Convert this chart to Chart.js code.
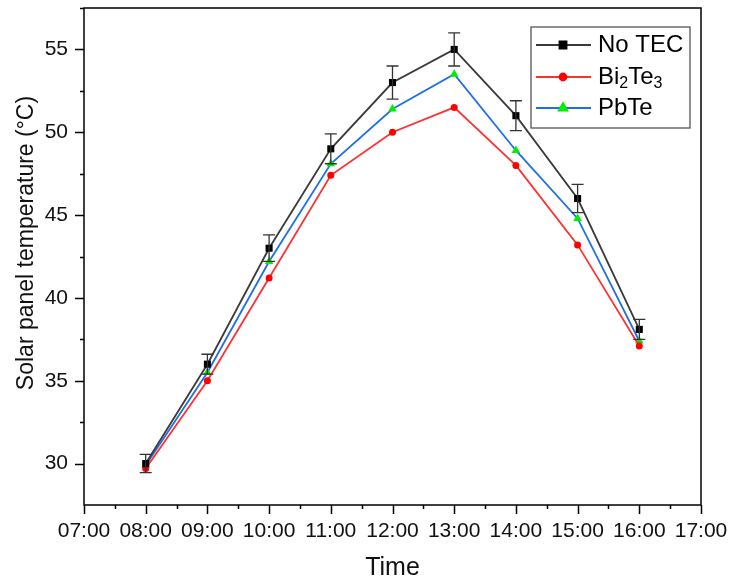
<!DOCTYPE html>
<html>
<head>
<meta charset="utf-8">
<script src="https://cdn.jsdelivr.net/npm/chart.js@4.4.0/dist/chart.umd.min.js"></script>
<style>
  html, body { margin: 0; padding: 0; background: #fff; }
  #wrap { width: 729px; height: 583px; }
</style>
</head>
<body>
<div id="wrap"><canvas id="myChart" width="729" height="583"></canvas></div>
<script>
// data (hour of day -> temperature)
const hours = [8, 9, 10, 11, 12, 13, 14, 15, 16];
const noTec = [30.0, 36.0, 43.0, 49.0, 53.0, 55.0, 51.0, 46.0, 38.1];
const noTecErr = [0.55, 0.6, 0.8, 0.9, 1.0, 1.0, 0.9, 0.85, 0.6];
const bi2te3 = [29.7, 35.0, 41.2, 47.4, 50.0, 51.5, 48.0, 43.2, 37.1];
const pbte = [29.9, 35.5, 42.2, 48.1, 51.4, 53.5, 48.9, 44.8, 37.4];

const xTicks = [7, 8, 9, 10, 11, 12, 13, 14, 15, 16, 17];
const xTickLabels = ["07:00", "08:00", "09:00", "10:00", "11:00", "12:00", "13:00", "14:00", "15:00", "16:00", "17:00"];
const yTicks = [30, 35, 40, 45, 50, 55];

const FONT = "'Liberation Sans', Arial, sans-serif";

const toPts = vals => hours.map((h, i) => ({ x: h, y: vals[i] }));

// error bars on the No TEC series
const errorBars = {
  id: "errorBars",
  afterDatasetsDraw(chart) {
    const { ctx, scales: { x, y } } = chart;
    ctx.save();
    ctx.strokeStyle = "#333";
    ctx.lineWidth = 1.3;
    hours.forEach((h, i) => {
      const px = x.getPixelForValue(h);
      const top = y.getPixelForValue(noTec[i] + noTecErr[i]);
      const bot = y.getPixelForValue(noTec[i] - noTecErr[i]);
      ctx.beginPath();
      ctx.moveTo(px, top); ctx.lineTo(px, bot);
      ctx.moveTo(px - 6, top); ctx.lineTo(px + 6, top);
      ctx.moveTo(px - 6, bot); ctx.lineTo(px + 6, bot);
      ctx.stroke();
    });
    ctx.restore();
  }
};

// frame, outward major + minor ticks, y title
const frame = {
  id: "frame",
  afterDraw(chart) {
    const { ctx, chartArea: a, scales: { x, y } } = chart;
    ctx.save();
    ctx.strokeStyle = "#000";
    ctx.lineWidth = 1.5;
    ctx.strokeRect(a.left, a.top, a.right - a.left, a.bottom - a.top);
    ctx.beginPath();
    for (let v = 7; v <= 17; v += 0.5) {
      const px = Math.round(x.getPixelForValue(v)) + 0.5;
      const len = Number.isInteger(v) ? 9 : 4;
      ctx.moveTo(px, a.bottom); ctx.lineTo(px, a.bottom + len);
    }
    for (let v = 30; v <= 57.5; v += 2.5) {
      const py = Math.round(y.getPixelForValue(v)) + 0.5;
      const len = v % 5 === 0 ? 9 : 4;
      ctx.moveTo(a.left, py); ctx.lineTo(a.left - len, py);
    }
    ctx.stroke();

    ctx.translate(27, 243);
    ctx.rotate(-Math.PI / 2);
    ctx.fillStyle = "#111";
    ctx.font = "23px " + FONT;
    ctx.textAlign = "center";
    ctx.textBaseline = "middle";
    ctx.fillText("Solar panel temperature (°C)", 0, 0);
    ctx.restore();
  }
};

// legend box inside the plot, with subscripts
const legendBox = {
  id: "legendBox",
  afterDraw(chart) {
    const { ctx } = chart;
    const bx = 531, by = 27, bw = 159, bh = 101;
    ctx.save();
    ctx.fillStyle = "#fff";
    ctx.fillRect(bx, by, bw, bh);
    ctx.strokeStyle = "#555";
    ctx.lineWidth = 1.3;
    ctx.strokeRect(bx, by, bw, bh);
    const rows = [45, 77, 108];
    chart.data.datasets.forEach((ds, i) => {
      const yy = rows[i];
      ctx.strokeStyle = ds.borderColor;
      ctx.lineWidth = ds.borderWidth;
      ctx.beginPath(); ctx.moveTo(536, yy); ctx.lineTo(591, yy); ctx.stroke();
      ctx.fillStyle = ds.pointBackgroundColor;
      ctx.strokeStyle = ds.pointBorderColor;
      Chart.helpers.drawPoint(ctx, { pointStyle: ds.pointStyle, radius: ds.pointRadius, borderWidth: 1 }, 563, yy);
    });
    ctx.fillStyle = "#000";
    ctx.textBaseline = "middle";
    ctx.textAlign = "left";
    const big = "24px " + FONT, small = "16px " + FONT;
    ctx.font = big;
    ctx.fillText("No TEC", 598, rows[0]);
    let cx = 598;
    const parts = [["Bi", big, 0], ["2", small, 7], ["Te", big, 0], ["3", small, 7]];
    parts.forEach(([t, f, dy]) => {
      ctx.font = f;
      ctx.fillText(t, cx, rows[1] + dy);
      cx += ctx.measureText(t).width;
    });
    ctx.font = big;
    ctx.fillText("PbTe", 598, rows[2]);
    ctx.restore();
  }
};

new Chart(document.getElementById("myChart").getContext("2d"), {
  type: "line",
  data: {
    datasets: [
      {
        label: "No TEC", data: toPts(noTec),
        borderColor: "#3a3a3a", borderWidth: 1.8,
        pointStyle: "rect", pointRadius: 5,
        pointBackgroundColor: "#000", pointBorderColor: "#000", pointBorderWidth: 0
      },
      {
        label: "Bi2Te3", data: toPts(bi2te3),
        borderColor: "#ff3030", borderWidth: 1.8,
        pointStyle: "circle", pointRadius: 3.5,
        pointBackgroundColor: "#ff0000", pointBorderColor: "#ff0000", pointBorderWidth: 0
      },
      {
        label: "PbTe", data: toPts(pbte),
        borderColor: "#1f6fe6", borderWidth: 1.8,
        pointStyle: "triangle", pointRadius: 5,
        pointBackgroundColor: "#00ee00", pointBorderColor: "#00ee00", pointBorderWidth: 0
      }
    ]
  },
  options: {
    responsive: false,
    animation: false,
    layout: { padding: { top: 8, right: 28, left: 0, bottom: 0 } },
    plugins: { legend: { display: false }, tooltip: { enabled: false } },
    scales: {
      x: {
        type: "linear", min: 7, max: 17,
        afterBuildTicks: s => { s.ticks = xTicks.map(v => ({ value: v })); },
        afterFit: s => { s.height = 78; s.paddingLeft = 0; s.paddingRight = 0; },
        grid: { display: false },
        border: { display: false },
        ticks: {
          padding: 6, color: "#111", maxRotation: 0, autoSkip: false,
          font: { family: FONT, size: 21 },
          callback: v => xTickLabels[xTicks.indexOf(v)]
        },
        title: {
          display: true, text: "Time", color: "#111",
          font: { family: FONT, size: 25 }, padding: { top: 0, bottom: 0 }
        }
      },
      y: {
        min: 27.5, max: 57.5,
        afterBuildTicks: s => { s.ticks = yTicks.map(v => ({ value: v })); },
        afterFit: s => { s.width = 84; s.paddingTop = 0; s.paddingBottom = 0; },
        grid: { display: false },
        border: { display: false },
        ticks: {
          padding: 8, color: "#111",
          font: { family: FONT, size: 21 }
        }
      }
    }
  },
  plugins: [errorBars, frame, legendBox]
});
</script>
</body>
</html>
